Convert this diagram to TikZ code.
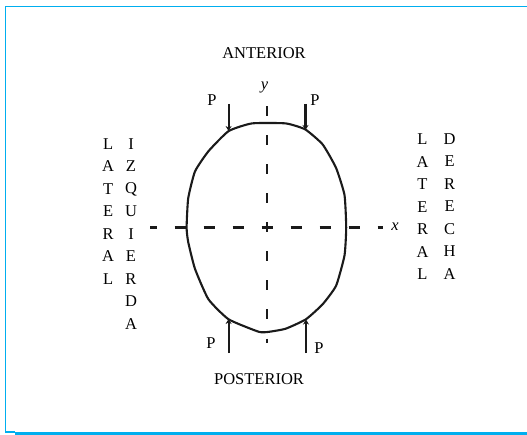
\documentclass[tikz,border=0pt]{standalone}
\usepackage{fontspec}
\setmainfont{Liberation Serif}
\usetikzlibrary{arrows.meta}

\def\lblsize{16.5}
\def\rowsep{22.5}
\definecolor{frmcyan}{HTML}{00AEEF}
\definecolor{inkgray}{HTML}{1A1A1A}

\tikzset{
  lbl/.style={inner sep=0pt, font=\fontsize{\lblsize}{19}\selectfont},
  axisline/.style={draw=inkgray, line width=2.1pt},
  loadarrow/.style={draw=inkgray, line width=2.1pt, -{Stealth[length=5pt, width=6pt]}}
}

\begin{document}
\begin{tikzpicture}[x=1pt, y=-1pt]

  \useasboundingbox (0,0) rectangle (527,435);

  % --------------------------------------------------------------------
  % Frame
  % --------------------------------------------------------------------

  \draw[frmcyan, line width=1.3pt] (527,6.5) -- (5.5,6.5) -- (5.5,432) -- (15,432);
  \fill[frmcyan] (15,431.5) rectangle (527,435);

  % --------------------------------------------------------------------
  % Axes
  % --------------------------------------------------------------------

  \coordinate (xl) at (150,227.5);
  \coordinate (xr) at (383,227.5);
  \coordinate (yt) at (267,106.5);
  \coordinate (yb) at (267,343);

  \draw[
    axisline,
    dash pattern=on 11pt off 18pt,
    dash phase=4.5pt
  ] (xl) -- (xr);

  \draw[
    axisline,
    dash pattern=on 10pt off 19pt
  ] (yt) -- (yb);

  \node[lbl, font=\fontsize{\lblsize}{19}\selectfont\itshape] (xlab) at (395,227) {x};
  \node[lbl, font=\fontsize{\lblsize}{19}\selectfont\itshape] (ylab) at (264.5,87) {y};

  % --------------------------------------------------------------------
  % Section outline
  % --------------------------------------------------------------------

  \draw[
    draw=inkgray,
    line width=2.1pt,
    line join=round
  ]
    plot[smooth cycle, tension=0.3] coordinates {
      (252,123.4) (285.7,123.4) (305.2,129.4) (322.7,144.5) (336.1,168)
      (344.5,195) (346.2,227.6) (344.5,255.5) (336.1,285.7) (322.7,304.2)
      (305.9,319.3) (285.7,328.7) (269,331.8) (258.8,331.8) (228.6,319.3)
      (208.4,299.2) (195,268.9) (188.2,242) (186.6,227.6) (188.2,198.3)
      (195,171.4) (208.4,151.3) (228.6,131.1)
    };

  % --------------------------------------------------------------------
  % Loads P
  % --------------------------------------------------------------------

  \coordinate (tlend) at (228.6,131);
  \coordinate (trend) at (305.5,130);
  \coordinate (blend) at (228.6,319);
  \coordinate (brend) at (306,319.5);

  \coordinate (tlbeg) at (228.6,104);
  \coordinate (trbeg) at (305.5,104);
  \coordinate (blbeg) at (228.6,353);
  \coordinate (brbeg) at (306,353);

  \foreach \a in {tl,tr,bl,br}{
    \draw[loadarrow] (\a beg) -- (\a end);
  }

  \node[lbl] (ptl) at (212,100) {P};
  \node[lbl] (ptr) at (315,100) {P};
  \node[lbl] (pbl) at (211,343.5) {P};
  \node[lbl] (pbr) at (319,348) {P};

  % --------------------------------------------------------------------
  % Side labels
  % --------------------------------------------------------------------

  \node[lbl] (ant) at (264,53) {ANTERIOR};
  \node[lbl] (post) at (259,379) {POSTERIOR};

  \foreach \c [count=\i] in {L,A,T,E,R,A,L}{
    \node[lbl] (latiz\i) at (108.2,{144+(\i-1)*\rowsep}) {\c};
    \node[lbl] (latde\i) at (422.5,{139.5+(\i-1)*\rowsep}) {\c};
  }

  \foreach \c [count=\i] in {I,Z,Q,U,I,E,R,D,A}{
    \node[lbl] (izq\i) at (131,{144+(\i-1)*\rowsep}) {\c};
  }

  \foreach \c [count=\i] in {D,E,R,E,C,H,A}{
    \node[lbl] (der\i) at (449.7,{139+(\i-1)*\rowsep}) {\c};
  }

\end{tikzpicture}
\end{document}
